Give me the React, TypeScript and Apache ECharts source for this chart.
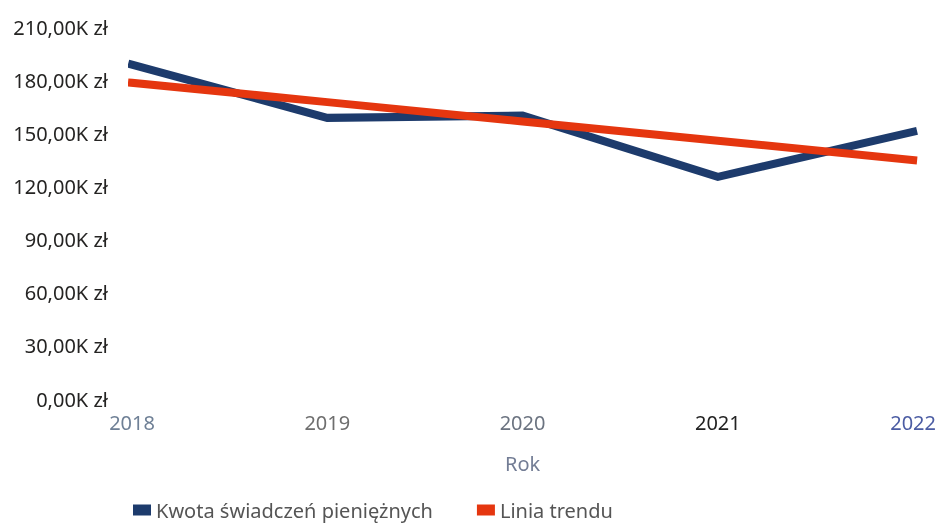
import React, { useEffect, useRef } from "react";
import * as echarts from "echarts";

const years = ["2018", "2019", "2020", "2021", "2022"];
const yearColors = ["#6f8096", "#6e6e6e", "#6b7380", "#222222", "#4b5ca3"];
const kwota = [188700, 158700, 160000, 125400, 150800];
const trend = [178500, 167600, 156700, 145800, 134900];

const FONT = "'Noto Sans', 'Open Sans', sans-serif";

export default function App() {
  const ref = useRef<HTMLDivElement>(null);
  useEffect(() => {
    if (!ref.current) return;
    const chart = echarts.init(ref.current, undefined, { renderer: "svg" });
    const rich: Record<string, any> = {};
    yearColors.forEach((c, i) => {
      rich["c" + i] = { color: c, fontSize: 20, fontFamily: FONT };
    });
    chart.setOption({
      animation: false,
      grid: { left: 132, right: 24, top: 27, bottom: 125 },
      legend: {
        left: 133,
        top: 500,
        padding: 0,
        itemWidth: 18,
        itemHeight: 11,
        itemGap: 44,
        icon: "rect",
        textStyle: { color: "#555", fontSize: 20, fontFamily: FONT, lineHeight: 20 },
        data: ["Kwota świadczeń pieniężnych", "Linia trendu"],
      },
      xAxis: {
        type: "category",
        data: years,
        boundaryGap: false,
        axisLine: { show: false },
        axisTick: { show: false },
        name: "Rok",
        nameLocation: "middle",
        nameGap: 54,
        nameTextStyle: { color: "#737d95", fontSize: 20, fontFamily: FONT },
        axisLabel: {
          margin: 13,
          fontSize: 20,
          fontFamily: FONT,
          formatter: (v: string) => {
            const i = years.indexOf(v);
            return "{c" + i + "|" + v + "}";
          },
          rich,
        },
      },
      yAxis: {
        type: "value",
        min: 0,
        max: 210000,
        interval: 30000,
        splitLine: { show: false },
        axisLine: { show: false },
        axisTick: { show: false },
        axisLabel: {
          margin: 24,
          color: "#252423",
          fontSize: 20,
          fontFamily: FONT,
          formatter: (v: number) => (v / 1000).toFixed(2).replace(".", ",") + "K zł",
        },
      },
      series: [
        {
          name: "Kwota świadczeń pieniężnych",
          type: "line",
          data: kwota,
          symbol: "none",
          itemStyle: { color: "#1d3b6c" },
          lineStyle: { color: "#1d3b6c", width: 8, cap: "square", join: "miter" },
        },
        {
          name: "Linia trendu",
          type: "line",
          data: trend,
          symbol: "none",
          itemStyle: { color: "#e5360f" },
          lineStyle: { color: "#e5360f", width: 8, cap: "square" },
        },
      ],
    });
    return () => chart.dispose();
  }, []);
  return (
    <div
      ref={ref}
      style={{ position: "fixed", left: 0, top: 0, width: 939, height: 524 }}
    />
  );
}
